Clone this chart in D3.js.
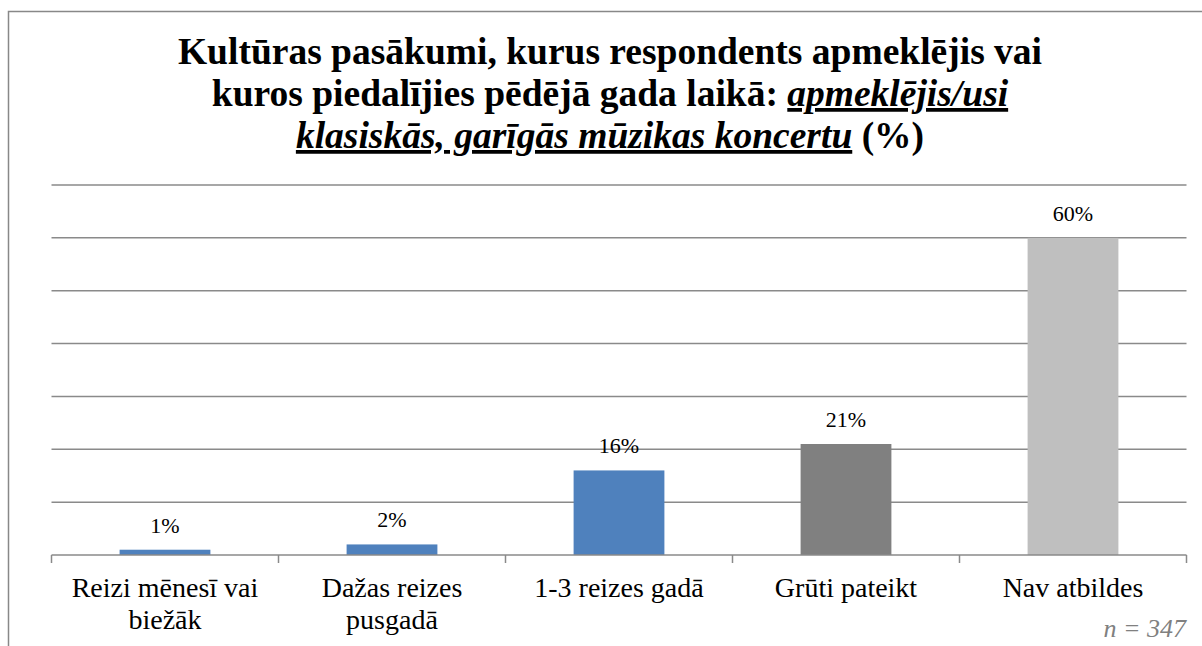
<!DOCTYPE html>
<html>
<head>
<meta charset="utf-8">
<script src="https://cdn.jsdelivr.net/npm/d3@7"></script>
<style>
  html, body { margin: 0; padding: 0; background: #fff; }
  svg { display: block; }
</style>
</head>
<body>
<svg id="chart" width="1202" height="646"></svg>
<script>
const categories = [["Reizi mēnesī vai", "biežāk"], ["Dažas reizes", "pusgadā"], ["1-3 reizes gadā"], ["Grūti pateikt"], ["Nav atbildes"]];
const values = [1, 2, 16, 21, 60];
const valueLabels = ["1%", "2%", "16%", "21%", "60%"];
const barColors = ["#4F81BD", "#4F81BD", "#4F81BD", "#808080", "#BFBFBF"];
const yTicks = [0, 10, 20, 30, 40, 50, 60, 70];

const FONT = '"Liberation Serif", "Times New Roman", Times, serif';
const svg = d3.select("#chart");
const plotLeft = 51.5, plotRight = 1186.5;

svg.append("rect").attr("x", 8.5).attr("y", 11.5).attr("width", 1300).attr("height", 800)
  .attr("fill", "none").attr("stroke", "#888").attr("stroke-width", 1.5);

const x = d3.scaleBand().domain(d3.range(values.length)).range([plotLeft, plotRight]).paddingInner(0.6).paddingOuter(0.3);
const y = d3.scaleLinear().domain([0, 70]).range([555, 185]);

// gridlines
svg.append("g").selectAll("line").data(yTicks.slice(1)).join("line")
  .attr("x1", plotLeft).attr("x2", plotRight)
  .attr("y1", d => y(d)).attr("y2", d => y(d))
  .attr("stroke", "#8a8a8a").attr("stroke-width", 1.5);

// bars
svg.append("g").selectAll("rect").data(values).join("rect")
  .attr("x", (d, i) => x(i)).attr("width", x.bandwidth())
  .attr("y", d => y(d)).attr("height", d => y(0) - y(d))
  .attr("fill", (d, i) => barColors[i]);

// axis line & ticks
const step = (plotRight - plotLeft) / values.length;
svg.append("line").attr("x1", plotLeft).attr("x2", plotRight)
  .attr("y1", y(0)).attr("y2", y(0)).attr("stroke", "#8a8a8a").attr("stroke-width", 1.5);
svg.append("g").selectAll("line").data(d3.range(values.length + 1)).join("line")
  .attr("x1", d => plotLeft + d * step).attr("x2", d => plotLeft + d * step)
  .attr("y1", y(0)).attr("y2", y(0) + 8).attr("stroke", "#8a8a8a").attr("stroke-width", 1.5);

// value labels
svg.append("g").selectAll("text").data(values).join("text")
  .attr("x", (d, i) => x(i) + x.bandwidth() / 2).attr("y", d => y(d) - 17)
  .attr("text-anchor", "middle")
  .style("font-family", FONT).style("font-size", "22px")
  .attr("fill", "#000").text((d, i) => valueLabels[i]);

// category labels
const cl = svg.append("g").selectAll("text").data(categories).join("text")
  .attr("text-anchor", "middle")
  .style("font-family", FONT).style("font-size", "28px")
  .attr("fill", "#000");
cl.each(function(lines, i) {
  const t = d3.select(this);
  lines.forEach((ln, j) => {
    t.append("tspan").attr("x", x(i) + x.bandwidth() / 2).attr("y", 597 + j * 32).text(ln);
  });
});

// title
const title = svg.append("text").attr("text-anchor", "middle")
  .style("font-family", FONT).style("font-size", "37.5px").style("font-weight", "bold")
  .attr("fill", "#000");
title.append("tspan").attr("x", 610).attr("y", 64).text("Kultūras pasākumi, kurus respondents apmeklējis vai");
title.append("tspan").attr("x", 610).attr("y", 106).text("kuros piedalījies pēdējā gada laikā: ");
title.append("tspan").style("font-style", "italic").style("text-decoration", "underline").text("apmeklējis/usi");
title.append("tspan").attr("x", 610).attr("y", 148).style("font-style", "italic").style("text-decoration", "underline").text("klasiskās, garīgās mūzikas koncertu");
title.append("tspan").text(" (%)");

// n note
svg.append("text").attr("x", 1186).attr("y", 637).attr("text-anchor", "end")
  .style("font-family", FONT).style("font-style", "italic").style("font-size", "26px")
  .attr("fill", "#808080").text("n = 347");
</script>
</body>
</html>
